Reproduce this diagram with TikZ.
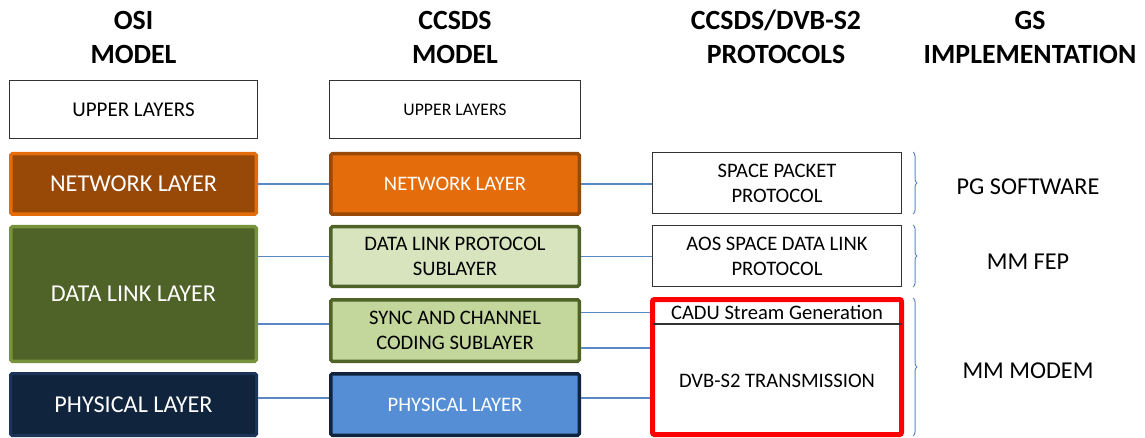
\documentclass[tikz,border=0pt]{standalone}
\usepackage{fontspec}
\setmainfont{Carlito}
\usetikzlibrary{decorations.pathreplacing}

\definecolor{netdark}{RGB}{152,72,7}
\definecolor{netorange}{RGB}{228,108,10}
\definecolor{dlgreen}{RGB}{79,98,40}
\definecolor{dlborder}{RGB}{119,147,60}
\definecolor{dllight}{RGB}{215,228,189}
\definecolor{synclight}{RGB}{195,214,155}
\definecolor{phynavy}{RGB}{16,36,62}
\definecolor{phyborder}{RGB}{28,52,88}
\definecolor{phyblue}{RGB}{85,142,213}
\definecolor{linkblue}{RGB}{91,135,196}
\definecolor{framegray}{RGB}{50,50,50}

\begin{document}
\begin{tikzpicture}[x=1pt,y=-1pt,
  layer/.style={draw, rounded corners=1.5pt, inner sep=0pt, align=center},
  plain/.style={layer, draw=framegray, line width=1.4pt, fill=white, rounded corners=0pt},
  ositext/.style={font=\fontsize{24.2}{28}\selectfont},
  cctext/.style={font=\fontsize{20.6}{25}\selectfont},
  heading/.style={font=\bfseries\fontsize{27.8}{34}\selectfont, align=center},
  gstext/.style={font=\fontsize{24.2}{28}\selectfont},
  link/.style={draw=linkblue, line width=1.2pt},
  bracket/.style={draw=linkblue, line width=1pt, decorate,
    decoration={brace, amplitude=4pt, aspect=0.5}}]

\useasboundingbox (0,0) rectangle (1145,438);

% column headings
\node[heading] (hosi) at (133.5,37) {OSI\\MODEL};
\node[heading] (hccsds) at (455,37) {CCSDS\\MODEL};
\node[heading] (hproto) at (776,37) {CCSDS/DVB-S2\\PROTOCOLS};
\node[heading] (hgs) at (1030,37) {GS\\IMPLEMENTATION};

% OSI model stack
\node[plain, minimum width=247.6pt, minimum height=57.6pt,
  font=\fontsize{21}{25}\selectfont] (osiup) at (133.5,109.5) {UPPER LAYERS};
\node[layer, ositext, line width=3.5pt, draw=netorange, fill=netdark, text=white,
  minimum width=245.5pt, minimum height=60.5pt] (osinet) at (133.5,184) {NETWORK LAYER};
\node[layer, ositext, line width=3.5pt, draw=dlborder, fill=dlgreen, text=white,
  minimum width=245.5pt, minimum height=134.5pt] (osidl) at (133.5,294) {DATA LINK LAYER};
\node[layer, ositext, line width=3pt, draw=phyborder, fill=phynavy, text=white,
  minimum width=246pt, minimum height=62pt] (osiphy) at (133.5,404.5) {PHYSICAL LAYER};

% CCSDS model stack
\node[plain, minimum width=250.6pt, minimum height=57.6pt,
  font=\fontsize{17.7}{21}\selectfont] (ccup) at (455,109.5) {UPPER LAYERS};
\node[layer, cctext, line width=3.5pt, draw=netdark, fill=netorange, text=white,
  minimum width=248.5pt, minimum height=60.5pt] (ccnet) at (455,184) {NETWORK LAYER};
\node[layer, cctext, line width=3.5pt, draw=dlgreen, fill=dllight,
  minimum width=248.5pt, minimum height=59.5pt] (ccdl) at (455,256.5)
  {DATA LINK PROTOCOL\\SUBLAYER};
\node[layer, cctext, line width=3.5pt, draw=dlgreen, fill=synclight,
  minimum width=248.5pt, minimum height=61.5pt] (ccsync) at (455,330.5)
  {SYNC AND CHANNEL\\CODING SUBLAYER};
\node[layer, cctext, line width=3.5pt, draw=phynavy, fill=phyblue, text=white,
  minimum width=248.5pt, minimum height=61.5pt] (ccphy) at (455,404.5) {PHYSICAL LAYER};

% CCSDS / DVB-S2 protocols
\node[plain, cctext, minimum width=248.6pt, minimum height=60.6pt] (spp) at (777,183)
  {SPACE PACKET\\PROTOCOL};
\node[plain, cctext, minimum width=248.6pt, minimum height=60.6pt] (aos) at (777,256)
  {AOS SPACE DATA LINK\\PROTOCOL};
\node[draw=red, line width=5pt, fill=white, rounded corners=2pt, inner sep=0pt,
  minimum width=249pt, minimum height=135pt] (dvb) at (777,367) {};
\coordinate (divl) at (dvb.west |- 0,324);
\coordinate (divr) at (dvb.east |- 0,324);
\draw[framegray, line width=1.2pt] ([xshift=2.5pt]divl) -- ([xshift=-2.5pt]divr);
\node[cctext, inner sep=0pt] (cadu) at (777,312) {CADU Stream Generation};
\node[cctext, inner sep=0pt] (dvbtx) at (777,381) {DVB-S2 TRANSMISSION};

% connectors between the stacks
\draw[link] (osinet.east) -- (ccnet.west);
\draw[link] (ccnet.east) -- (spp.west |- ccnet.east);
\draw[link] (osidl.east |- ccdl.west) -- (ccdl.west);
\draw[link] (ccdl.east) -- (aos.west |- ccdl.east);
\draw[link] (osidl.east |- 0,324) -- (ccsync.west |- 0,324);
\draw[link] (ccsync.east |- 0,312.5) -- (dvb.west |- 0,312.5);
\draw[link] (ccsync.east |- 0,348) -- (dvb.west |- 0,348);
\draw[link] (osiphy.east |- 0,398) -- (ccphy.west |- 0,398);
\draw[link] (ccphy.east |- 0,398) -- (dvb.west |- 0,398);

% ground segment implementation groups
\coordinate (b1t) at (913,152); \coordinate (b1b) at (913,214);
\coordinate (b2t) at (913,225); \coordinate (b2b) at (913,287);
\coordinate (b3t) at (913,298); \coordinate (b3b) at (913,436);
\draw[bracket] (b1t) -- (b1b);
\draw[bracket] (b2t) -- (b2b);
\draw[bracket] (b3t) -- (b3b);
\node[gstext] (pg) at (1028,187) {PG SOFTWARE};
\node[gstext] (fep) at (1028,262) {MM FEP};
\node[gstext] (modem) at (1028,371) {MM MODEM};

\end{tikzpicture}
\end{document}
